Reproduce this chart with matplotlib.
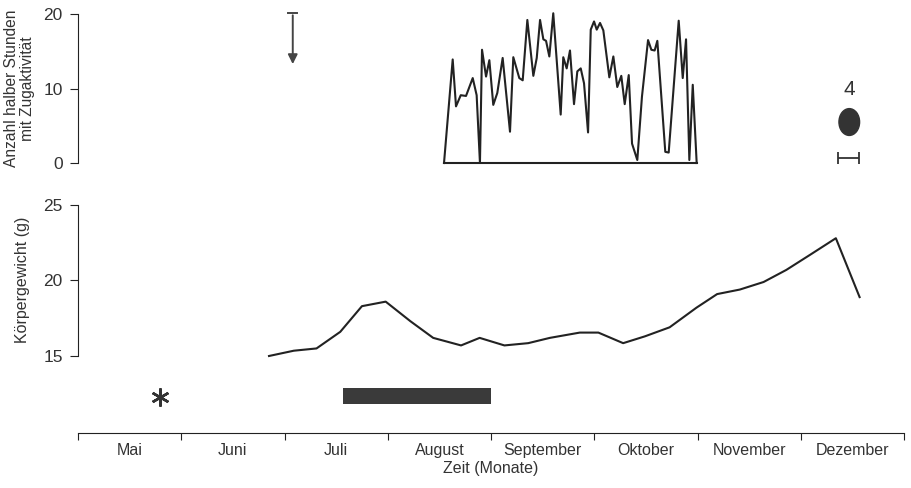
import numpy as np
import matplotlib.pyplot as plt
from matplotlib.patches import Ellipse

# x positions are in months, 0 = start of Mai
months = ['Mai', 'Juni', 'Juli', 'August', 'September', 'Oktober', 'November', 'Dezember']

# migratory activity (half hours per night)
act_x = [3.545, 3.629, 3.661, 3.707, 3.758, 3.823, 3.861, 3.893, 3.913, 3.952, 3.984, 4.022, 4.061,
         4.113, 4.184, 4.216, 4.274, 4.307, 4.352, 4.410, 4.443, 4.475, 4.507, 4.533, 4.565, 4.603,
         4.675, 4.700, 4.733, 4.765, 4.804, 4.836, 4.869, 4.901, 4.940, 4.966, 4.998, 5.024, 5.056,
         5.088, 5.146, 5.185, 5.223, 5.262, 5.295, 5.334, 5.366, 5.417, 5.462, 5.521, 5.553, 5.585,
         5.611, 5.688, 5.721, 5.818, 5.857, 5.889, 5.921, 5.954, 5.992]
act_y = [0, 13.9, 7.6, 9.1, 9.0, 11.4, 9.1, 0, 15.2, 11.6, 13.8, 7.8, 9.4,
         14.1, 4.2, 14.2, 11.4, 11.1, 19.2, 11.7, 14.1, 19.2, 16.6, 16.4, 14.3, 20.1,
         6.5, 14.2, 12.7, 15.1, 7.9, 12.3, 12.7, 10.7, 4.1, 17.9, 19.0, 17.9, 18.8,
         17.8, 11.5, 14.3, 10.2, 11.7, 7.9, 11.8, 2.6, 0.4, 8.9, 16.5, 15.2, 15.1,
         16.4, 1.5, 1.4, 19.1, 11.4, 16.6, 0.4, 10.5, 0]

# body weight (g)
w_x = [1.85, 2.09, 2.31, 2.54, 2.75, 2.98, 3.22, 3.44, 3.71, 3.89, 4.13, 4.36, 4.57, 4.86,
       5.04, 5.28, 5.49, 5.73, 5.99, 6.19, 6.41, 6.64, 6.86, 7.09, 7.34, 7.57]
w_y = [15.0, 15.35, 15.5, 16.6, 18.3, 18.6, 17.3, 16.2, 15.7, 16.2, 15.7, 15.85, 16.2, 16.55,
       16.55, 15.85, 16.3, 16.9, 18.2, 19.1, 19.4, 19.9, 20.7, 21.7, 22.8, 18.9]

bar_start, bar_end = 2.57, 4.0
star_x, star_y = 0.79, 12.3
arrow_x, arrow_top, arrow_tip = 2.08, 20.2, 12.9
egg_x, egg_y = 7.47, 5.5

plt.rcParams['font.family'] = ['Liberation Sans', 'DejaVu Sans']
txt = '#333333'
lc = '#222222'

fig = plt.figure(figsize=(9.11, 4.88), dpi=100)
ax1 = fig.add_axes([78/911, 1-163/488, 826/911, 149/488])
ax2 = fig.add_axes([78/911, 1-433/488, 826/911, 228/488])

# --- top panel
ax1.plot(act_x, act_y, color=lc, lw=1.5, clip_on=False)
ax1.plot([act_x[0], act_x[-1]], [0, 0], color=lc, lw=1.5, clip_on=False)
ax1.annotate('', xy=(arrow_x, arrow_tip), xytext=(arrow_x, arrow_top),
             arrowprops=dict(arrowstyle='-|>', color='#444444', lw=1.4, mutation_scale=14),
             annotation_clip=False)
ax1.plot([arrow_x - 0.045, arrow_x + 0.045], [arrow_top, arrow_top], color='#444444', lw=1.4, clip_on=False)
ax1.add_patch(Ellipse((egg_x, egg_y), 0.2, 3.6, color='#333333'))
ax1.errorbar(egg_x - 0.01, 0.67, xerr=0.1, color='#333333', capsize=4, lw=1.3, capthick=1.3)
ax1.text(egg_x, 9.8, '4', ha='center', va='center', fontsize=15, color=txt)

ax1.set_xlim(0, 8)
ax1.set_ylim(0, 20)
ax1.set_yticks([0, 10, 20])
for s in ['top', 'right', 'bottom']:
    ax1.spines[s].set_visible(False)
ax1.spines['left'].set_color(lc)
ax1.set_xticks([])
ax1.tick_params(axis='y', length=6, pad=5, colors=lc, labelcolor=txt, labelsize=12.5)
ax1.set_ylabel('Anzahl halber Stunden\nmit Zugaktivität', fontsize=11.2, color=txt, linespacing=1.05)
ax1.yaxis.set_label_coords(-0.052, 0.5)

# --- bottom panel
ax2.plot(w_x, w_y, color=lc, lw=1.5)
ax2.barh(12.35, bar_end - bar_start, left=bar_start, height=1.05, color='#3a3a3a')
ax2.plot(star_x, star_y, marker=(6, 2, 0), color='#333333', markersize=13, mew=1.8)

ax2.set_xlim(0, 8)
ax2.set_ylim(9.9, 25)
ax2.set_yticks([15, 20, 25])
ax2.spines['left'].set_bounds(15, 25)
ax2.spines['top'].set_visible(False)
ax2.spines['right'].set_visible(False)
ax2.spines['left'].set_color(lc)
ax2.spines['bottom'].set_color(lc)
ax2.set_xticks(np.arange(0, 9))
ax2.set_xticklabels([])
ax2.set_xticks(np.arange(8) + 0.5, minor=True)
ax2.set_xticklabels(months, minor=True)
ax2.tick_params(axis='x', which='major', length=5, colors=lc)
ax2.tick_params(axis='x', which='minor', length=0, pad=7, labelsize=11.5, labelcolor=txt)
ax2.tick_params(axis='y', length=6, pad=5, colors=lc, labelcolor=txt, labelsize=12.5)
ax2.set_xlabel('Zeit (Monate)', fontsize=11.5, color=txt, labelpad=2)
ax2.set_ylabel('Körpergewicht (g)', fontsize=11.5, color=txt)
ax2.yaxis.set_label_coords(-0.058, 0.67)

fig.savefig('out.png', dpi=100)
